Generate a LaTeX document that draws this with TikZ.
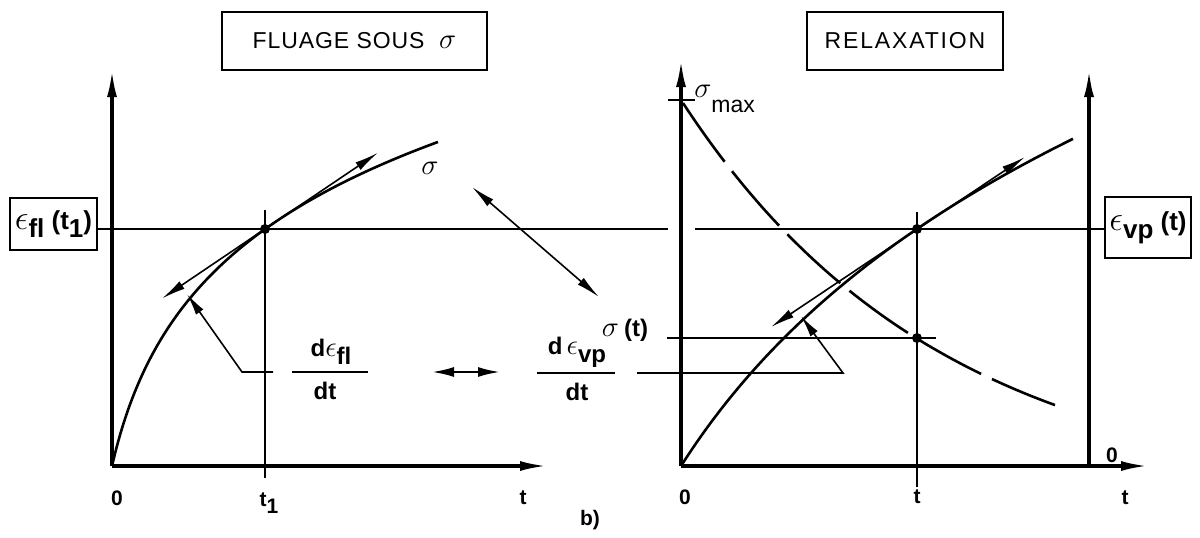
\documentclass[tikz,border=0pt]{standalone}
\usepackage{fontspec}
\setmainfont{Liberation Sans}
\usetikzlibrary{arrows.meta}
\begin{document}
\begin{tikzpicture}[x=0.5pt,y=-0.5pt,
  axis/.style={line width=1.6pt,-{Latex[length=13.5pt,width=5pt]}},
  thinline/.style={line width=0.7pt},
  curve/.style={line width=1.3pt},
  tang/.style={line width=0.8pt,{Latex[length=12pt,width=4.5pt]}-{Latex[length=12pt,width=4.5pt]}},
  lead/.style={line width=0.8pt,-{Latex[length=11pt,width=4.5pt]}},
  lbl/.style={font=\fontsize{10.5}{12}\selectfont\bfseries, inner sep=1pt},
  frac/.style={font=\fontsize{12}{14}\selectfont\bfseries, inner sep=1pt},
  framebox/.style={draw,line width=1pt,inner sep=0pt},
  dot/.style={circle,fill,inner sep=0pt,minimum size=5pt},
  sig/.style={font=\fontsize{15}{16}\selectfont, inner sep=1pt}
]
\useasboundingbox (0,0) rectangle (1200,537);

% ---------- titles ----------
\node[framebox,minimum width=132.5pt,minimum height=29pt] (title1) at (354.5,41)
  {\fontsize{11.5}{13}\selectfont\addfontfeature{LetterSpace=4}FLUAGE SOUS\ \ {\fontsize{15}{15}\selectfont$\sigma$}};
\node[framebox,minimum width=98pt,minimum height=29pt] (title2) at (905,41)
  {\fontsize{11.5}{13}\selectfont\addfontfeature{LetterSpace=8}RELAXATION};

% ---------- left graph ----------
\coordinate (O1) at (112,466);
\coordinate (Y1) at (112,70);
\coordinate (X1) at (547,466);
\draw[axis] (O1) -- (Y1);
\draw[axis] (O1) -- (X1);

\node[framebox,minimum width=43.5pt,minimum height=26pt] (efl) at (53.5,224)
  {\fontsize{13}{14}\selectfont\bfseries{\fontsize{16}{16}\selectfont$\epsilon$}\raisebox{-0.6ex}{fl}\ (t\raisebox{-0.6ex}{1})};

\coordinate (V1a) at (265,210);
\coordinate (V1b) at (265,478);
\draw[thinline] (V1a) -- (V1b);
\coordinate (H1end) at (668,229);
\draw[thinline] (efl.east |- 0,229) -- (H1end);

\draw[curve] plot[domain=0:326,samples=80,smooth] ({112+\x},{466-131*ln(1+\x/30)});

\node[dot] (P1) at (265,229) {};
\coordinate (T1a) at (162,298.5);
\coordinate (T1b) at (378,152.7);
\draw[tang] (T1a) -- (T1b);

\node[sig] (sigL) at (430,168) {$\sigma$};

% fraction left
\coordinate (F1a) at (292,372);
\coordinate (F1b) at (368,372);
\draw[line width=1.1pt] (F1a) -- (F1b);
\node[frac] (num1) at (331,352) {d{\fontsize{15}{15}\selectfont$\epsilon$}\raisebox{-0.6ex}{fl}};
\node[frac] (den1) at (325,391) {dt};
\coordinate (L1a) at (273,372);
\coordinate (L1b) at (242,372);
\coordinate (L1c) at (187,294);
\draw[lead] (L1a) -- (L1b) -- (L1c);

% middle arrows
\coordinate (M1) at (432,372);
\coordinate (M2) at (500,372);
\draw[line width=1.1pt,{Latex[length=11pt,width=5pt]}-{Latex[length=11pt,width=5pt]}] (M1) -- (M2);
\coordinate (D1) at (472,187);
\coordinate (D2) at (599,297);
\draw[tang] (D1) -- (D2);
\node[sig] (sigt) at (625,330) {$\sigma$\,\fontsize{12}{13}\selectfont\bfseries (t)};

% fraction right
\coordinate (F2a) at (537,373);
\coordinate (F2b) at (615,373);
\draw[line width=1.1pt] (F2a) -- (F2b);
\node[frac] (num2) at (577,352) {d\,{\fontsize{15}{15}\selectfont$\epsilon$}\raisebox{-0.6ex}{vp}};
\node[frac] (den2) at (577,392) {dt};

% labels left
\node[lbl] (zero1) at (117,498) {0};
\node[lbl] (t1) at (269,503) {t\raisebox{-0.6ex}{1}};
\node[lbl] (tL) at (523,498) {t};
\node[lbl] (b) at (590,520) {b)};

% ---------- right graph ----------
\coordinate (O2) at (681,466);
\coordinate (Y2) at (681,60);
\coordinate (X2) at (1148,466);
\coordinate (R0) at (1089,466);
\coordinate (RY) at (1089,70);
\draw[axis] (O2) -- (Y2);
\draw[axis] (O2) -- (X2);
\draw[axis] (R0) -- (RY);

\node[framebox,minimum width=43pt,minimum height=30.5pt] (evp) at (1148,227.5)
  {\fontsize{13}{14}\selectfont\bfseries{\fontsize{16}{16}\selectfont$\epsilon$}\raisebox{-0.6ex}{vp}\ (t)};

\coordinate (H2start) at (695,229);
\draw[thinline] (H2start) -- (evp.west |- 0,229);

\coordinate (SMa) at (668,100);
\coordinate (SMb) at (695,100);
\draw[thinline] (SMa) -- (SMb);
\node[anchor=west,inner sep=1pt] (smax) at (692,99)
  {\fontsize{15}{16}\selectfont$\sigma$\raisebox{-0.9ex}{\fontsize{11.5}{12}\selectfont max}};

\coordinate (V2a) at (917,212);
\coordinate (V2b) at (917,487);
\draw[thinline] (V2a) -- (V2b);

\coordinate (S2a) at (667,338);
\coordinate (S2b) at (936,338);
\draw[thinline] (S2a) -- (S2b);

\draw[curve] plot[domain=0:392,samples=80,smooth] ({681+\x},{466-283*ln(1+\x/180)});

\draw[curve,dash pattern=on 36pt off 6pt] plot[domain=2:374,samples=80,smooth] ({681+\x},{500-400*exp(-\x/260)});

\node[dot] (P2) at (917,229) {};
\node[dot] (P3) at (917,338) {};

\coordinate (T2a) at (771,327);
\coordinate (T2b) at (1025,157);
\draw[tang] (T2a) -- (T2b);

\coordinate (L2a) at (637,373);
\coordinate (L2b) at (843,373);
\coordinate (L2c) at (801,316);
\draw[lead] (L2a) -- (L2b) -- (L2c);

\node[lbl] (zero2) at (685,497) {0};
\node[lbl] (t2) at (917,497) {t};
\node[lbl] (zero3) at (1112,455) {0};
\node[lbl] (t3) at (1125,498) {t};
\end{tikzpicture}
\end{document}
